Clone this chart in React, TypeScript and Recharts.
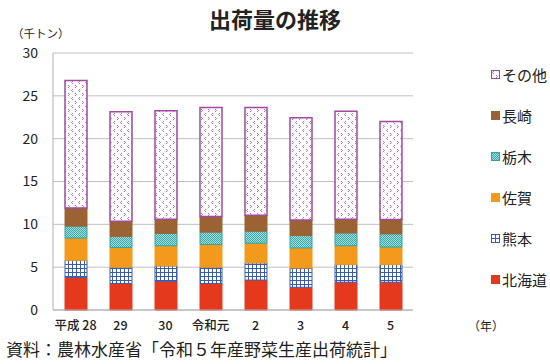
import { BarChart, Bar, XAxis, YAxis, CartesianGrid, Legend } from "recharts"

const years = ["平成 28", "29", "30", "令和元", "2", "3", "4", "5"]
const hokkaido = [3.8, 3.1, 3.35, 3.1, 3.5, 2.65, 3.25, 3.25]
const kumamoto = [2.0, 1.9, 1.8, 1.9, 2.0, 2.25, 2.05, 2.05]
const saga = [2.6, 2.3, 2.35, 2.65, 2.3, 2.35, 2.2, 2.05]
const tochigi = [1.4, 1.3, 1.45, 1.45, 1.4, 1.45, 1.5, 1.55]
const nagasaki = [2.1, 1.75, 1.65, 1.8, 1.85, 1.8, 1.6, 1.65]
const others = [14.9, 12.8, 12.65, 12.75, 12.6, 11.95, 12.6, 11.45]
const yTicks = [0, 5, 10, 15, 20, 25, 30]

const FONT = "'Noto Sans CJK JP', 'Noto Sans', sans-serif"

const data = years.map((year, i) => ({
  year,
  hokkaido: hokkaido[i],
  kumamoto: kumamoto[i],
  saga: saga[i],
  tochigi: tochigi[i],
  nagasaki: nagasaki[i],
  others: others[i],
}))

const series = [
  { key: "hokkaido", name: "北海道", fill: "#e5391e", stroke: "#e5391e" },
  { key: "kumamoto", name: "熊本", fill: "url(#pat-kumamoto)", stroke: "#3a5cb0" },
  { key: "saga", name: "佐賀", fill: "#f39a1c", stroke: "#f39a1c" },
  { key: "tochigi", name: "栃木", fill: "url(#pat-tochigi)", stroke: "#2fa3a3" },
  { key: "nagasaki", name: "長崎", fill: "#9b6233", stroke: "#9b6233" },
  { key: "others", name: "その他", fill: "url(#pat-others)", stroke: "#a24aa2" },
]

function LegendBox() {
  const items = [...series].reverse()
  return (
    <div style={{ fontFamily: FONT, fontSize: 15, color: "#222" }}>
      {items.map((s) => (
        <div key={s.key} style={{ display: "flex", alignItems: "center", height: 41 }}>
          <svg width={9} height={9} style={{ marginRight: 2 }}>
            <rect x={0.5} y={0.5} width={8} height={8} fill={s.fill} stroke={s.stroke} />
          </svg>
          <span>{s.name}</span>
        </div>
      ))}
    </div>
  )
}

export default function App() {
  return (
    <div style={{ position: "absolute", left: 0, top: 0, width: 550, height: 364, background: "#fff", fontFamily: FONT }}>
      <div style={{ position: "absolute", left: 0, width: 550, top: 2, textAlign: "center", fontSize: 22, fontWeight: "bold", color: "#222" }}>
        出荷量の推移
      </div>
      <div style={{ position: "absolute", left: 12, top: 25, fontSize: 11.5, color: "#222" }}>（千トン）</div>
      <div style={{ position: "absolute", left: 468, top: 317, fontSize: 12, color: "#222" }}>（年）</div>
      <div style={{ position: "absolute", left: 6, top: 336, fontSize: 17, color: "#222" }}>
        資料：農林水産省「令和５年産野菜生産出荷統計」
      </div>
      <BarChart
        width={550}
        height={364}
        data={data}
        margin={{ top: 53, right: 77, bottom: 0, left: 13 }}
        barSize={22}
      >
        <defs>
          <pattern id="pat-kumamoto" width={4} height={4} patternUnits="userSpaceOnUse">
            <rect width={4} height={4} fill="#fff" />
            <path d="M0 0.5 H4 M0.5 0 V4" stroke="#3a5cb0" strokeWidth={1} />
          </pattern>
          <pattern id="pat-tochigi" width={2} height={2} patternUnits="userSpaceOnUse">
            <rect width={2} height={2} fill="#a6dcdc" />
            <rect width={1} height={1} fill="#38a8a8" />
            <rect x={1} y={1} width={1} height={1} fill="#38a8a8" />
          </pattern>
          <pattern id="pat-others" width={7} height={8} patternUnits="userSpaceOnUse">
            <rect width={7} height={8} fill="#fff" />
            <path d="M3 1 L1.5 2.5 L3 4" stroke="#b060b0" strokeWidth={0.9} fill="none" />
            <path d="M5 5 L6.5 6.5 L5 8" stroke="#b060b0" strokeWidth={0.9} fill="none" />
          </pattern>
        </defs>
        <CartesianGrid vertical={false} stroke="#c0c0c0" />
        <XAxis
          dataKey="year"
          height={54}
          axisLine={{ stroke: "#b0b0b0" }}
          tickLine={false}
          tickSize={0}
          tickMargin={11}
          tick={{ fontSize: 12.5, fill: "#222", fontFamily: FONT, fontWeight: 500 }}
          interval={0}
        />
        <YAxis
          width={40}
          domain={[0, 30]}
          ticks={yTicks}
          axisLine={{ stroke: "#b0b0b0" }}
          tickLine={false}
          tickSize={0}
          tickMargin={15}
          tick={{ fontSize: 14, fill: "#222", fontFamily: FONT }}
        />
        <Legend
          layout="vertical"
          align="right"
          verticalAlign="top"
          content={() => <LegendBox />}
          wrapperStyle={{ left: 491, top: 54, width: 60 }}
        />
        {series.map((s) => (
          <Bar
            key={s.key}
            dataKey={s.key}
            name={s.name}
            stackId="a"
            fill={s.fill}
            stroke={s.stroke}
            strokeWidth={s.key === "others" ? 1.5 : 1}
            isAnimationActive={false}
          />
        ))}
      </BarChart>
    </div>
  )
}
